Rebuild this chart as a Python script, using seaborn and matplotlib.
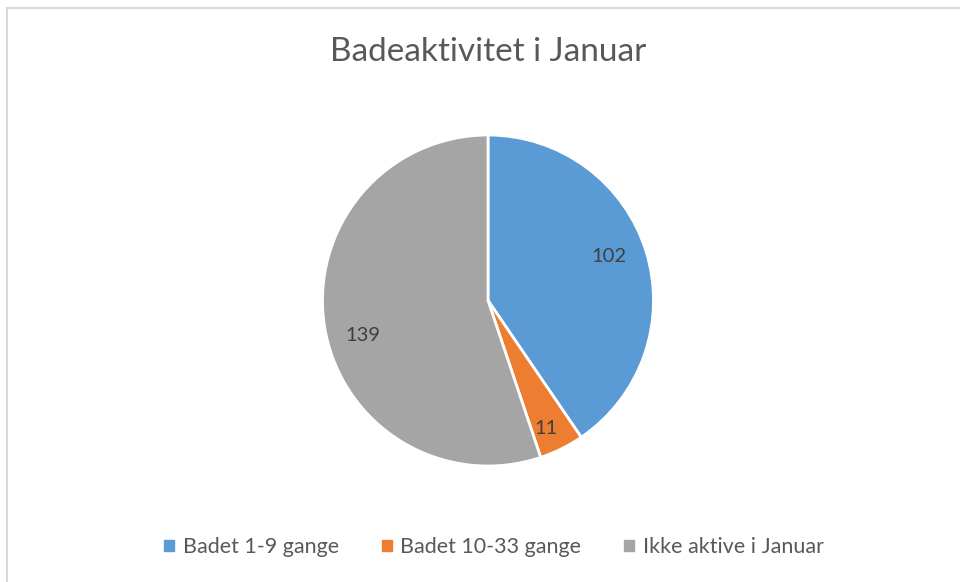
import matplotlib
matplotlib.use("Agg")
import matplotlib.pyplot as plt
import seaborn as sns
from matplotlib.patches import Rectangle

categories = ["Badet 1-9 gange", "Badet 10-33 gange", "Ikke aktive i Januar"]
values = [102, 11, 139]
colors = ["#5B9BD5", "#ED7D31", "#A5A5A5"]
title = "Badeaktivitet i Januar"
# data-label placement (pie radius units), as Excel's "best fit" put them
label_xy = [(0.731, 0.272), (0.353, -0.764), (-0.757, -0.205)]

sns.set_theme(style="white")
plt.rcParams["font.family"] = ["Lato", "DejaVu Sans"]
text_color = "#595959"

fig = plt.figure(figsize=(9.6, 5.82), dpi=100)
fig.patch.set_facecolor("white")
# chart frame
fig.add_artist(Rectangle((6.5 / 960, -0.05), 1.2, (582 - 7.5) / 582 + 0.05,
                         transform=fig.transFigure, fill=False,
                         edgecolor="#D9D9D9", linewidth=1.5))

# pie area: center (488, 300.5), radius 165.5 px
r = 165.5
cx, cy = 488, 300.5
ax = fig.add_axes([(cx - r) / 960, (582 - cy - r) / 582, 2 * r / 960, 2 * r / 582])
pal = sns.color_palette(colors)
wedges, texts = ax.pie(values, colors=pal, startangle=90, counterclock=False,
                       labels=[str(v) for v in values], labeldistance=0.78,
                       wedgeprops=dict(edgecolor="white", linewidth=2),
                       textprops=dict(color="#404040", fontsize=14.5))
for t, xy in zip(texts, label_xy):
    t.set_position(xy)
    t.set_ha("center")
    t.set_va("center_baseline")
ax.set_aspect("equal")
ax.set_xlim(-1, 1)
ax.set_ylim(-1, 1)
ax.axis("off")

fig.text(488 / 960, 1 - 52 / 582, title, ha="center", va="center",
         fontsize=24, color=text_color)

handles = [plt.Rectangle((0, 0), 1, 1, color=c) for c in pal]
leg = fig.legend(handles, categories, loc="center", bbox_to_anchor=(494 / 960, 1 - 547 / 582),
                 ncol=3, frameon=False, fontsize=15.5, handlelength=0.45, handleheight=0.45,
                 handletextpad=0.4, columnspacing=2.0)
for t in leg.get_texts():
    t.set_color(text_color)

fig.savefig("out.png", dpi=100, facecolor="white")
